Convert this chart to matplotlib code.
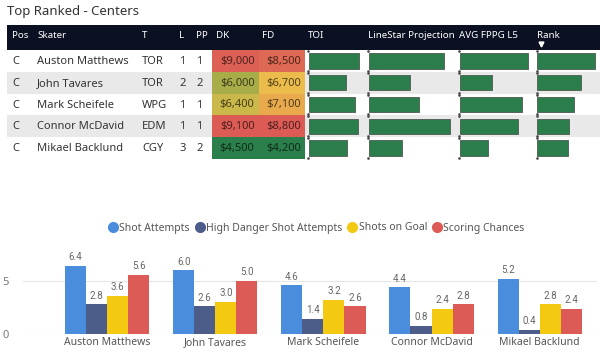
import matplotlib
matplotlib.use("Agg")
import matplotlib.pyplot as plt
import numpy as np
from matplotlib.colors import LinearSegmentedColormap, Normalize
from matplotlib.patches import Rectangle
from matplotlib.lines import Line2D

# ---------------- data ----------------
pos = ["C", "C", "C", "C", "C"]
skaters = ["Auston Matthews", "John Tavares", "Mark Scheifele", "Connor McDavid", "Mikael Backlund"]
teams = ["TOR", "TOR", "WPG", "EDM", "CGY"]
line = [1, 2, 1, 1, 3]
pp = [1, 2, 1, 1, 2]
dk = [9000, 6000, 6400, 9100, 4500]
fd = [8500, 6700, 7100, 8800, 4200]
toi = [20.3, 15.1, 18.7, 19.6, 15.5]
linestar = [18.0, 10.0, 12.0, 19.5, 8.0]
avg_fppg = [17.0, 8.0, 15.7, 14.7, 7.2]
rank = [5.8, 4.4, 3.7, 3.2, 3.1]

series_names = ["Shot Attempts", "High Danger Shot Attempts", "Shots on Goal", "Scoring Chances"]
shot_attempts = [6.4, 6.0, 4.6, 4.4, 5.2]
hd_attempts = [2.8, 2.6, 1.4, 0.8, 0.4]
shots_on_goal = [3.6, 3.0, 3.2, 2.4, 2.8]
scoring_chances = [5.6, 5.0, 2.6, 2.8, 2.4]

# ---------------- style ----------------
FONT = "Noto Sans"
W, H = 600, 354
fig = plt.figure(figsize=(W / 100, H / 100), dpi=100)

def frect(x0, y0, w, h):
    """pixel rect (top-left origin) -> figure fraction"""
    return [x0 / W, 1 - (y0 + h) / H, w / W, h / H]

# table layer in pixel coordinates
tab = fig.add_axes([0, 0, 1, 1])
tab.set_xlim(0, W)
tab.set_ylim(H, 0)
tab.axis("off")

tab.text(7, 12, "Top Ranked - Centers", fontsize=9.5, color="#333333",
         family=FONT, va="center", ha="left")

hdr_top, hdr_bot = 25, 50
row_h = 21.8
nrows = len(skaters)
tab.add_patch(Rectangle((7, hdr_top), W - 7, hdr_bot - hdr_top, color="#0b1022", lw=0))
for i in range(nrows):
    if i % 2 == 1:
        tab.add_patch(Rectangle((7, hdr_bot + i * row_h), W - 7, row_h,
                                color="#e9e9ea", lw=0))

headers = [("Pos", 12), ("Skater", 37), ("T", 142), ("L", 179), ("PP", 196),
           ("DK", 216), ("FD", 262), ("TOI", 308), ("LineStar Projection", 368),
           ("AVG FPPG L5", 459), ("Rank", 537)]
for txt, x in headers:
    tab.text(x, 35.5, txt, fontsize=7, color="white", family=FONT,
             va="center", ha="left")
tab.plot([540.5], [43.5], marker="v", color="white", markersize=3.5)

cmap = LinearSegmentedColormap.from_list("gyr", ["#2a7f4b", "#ecc64a", "#dc5c55"])

def darker(c, f=0.35):
    r, g, b, _ = c
    return (r * f, g * f, b * f)

for col_vals, x0, x1 in [(dk, 212, 258.5), (fd, 258.5, 305)]:
    norm = Normalize(min(col_vals), max(col_vals))
    for i, v in enumerate(col_vals):
        c = cmap(norm(v))
        y0 = hdr_bot + i * row_h
        tab.add_patch(Rectangle((x0, y0), x1 - x0, row_h, color=c, lw=0))
        tab.text(x1 - 4, y0 + row_h / 2 + 0.5, f"${v:,}", fontsize=8,
                 color=darker(c), family=FONT, va="center", ha="right")

for i in range(nrows):
    yc = hdr_bot + i * row_h + row_h / 2 + 0.5
    for txt, x in [(pos[i], 12), (skaters[i], 37), (teams[i], 142),
                   (str(line[i]), 179), (str(pp[i]), 196)]:
        tab.text(x, yc, txt, fontsize=8, color="#333333", family=FONT,
                 va="center", ha="left")

# data bar columns: (values, start px, width px, px per unit)
bar_cols = [(toi, 308.5, 59.5, 2.5), (linestar, 368.5, 90.5, 4.17),
            (avg_fppg, 459.5, 77.5, 4.0), (rank, 537.0, 63.0, 10.0)]
for vals, x0, w, scale in bar_cols:
    bx = fig.add_axes(frect(x0, hdr_bot, w, row_h * nrows))
    bx.patch.set_alpha(0)
    bx.set_xlim(0, w / scale)
    bx.set_ylim(nrows - 0.5, -0.5)
    bx.barh(np.arange(nrows), vals, height=0.7, color="#2b7d4c",
            edgecolor="#4d5a50", linewidth=0.6)
    bx.axis("off")
    for i in range(nrows):
        y0 = hdr_bot + i * row_h
        tab.plot([x0 - 0.5], [y0 + 1], marker="s", markersize=0.8,
                 color="#444444")
        tab.plot([x0 - 0.5], [y0 + row_h - 1], marker="s", markersize=0.8,
                 color="#444444")

# ---------------- grouped bar chart ----------------
colors = ["#4a8ddc", "#4c5d8a", "#f3c911", "#dc5b57"]
series = [shot_attempts, hd_attempts, shots_on_goal, scoring_chances]

ax = fig.add_axes(frect(23, 249.2, 574, 84.8))
ax.patch.set_alpha(0)
x = np.arange(len(skaters))
bw = 0.195
for k, (vals, c) in enumerate(zip(series, colors)):
    xs = x + (k - 1.5) * bw
    ax.bar(xs, vals, width=bw, color=c, lw=0, zorder=3)
    for xi, v in zip(xs, vals):
        ax.text(xi, v + 0.35, f"{v:.1f}", ha="center", va="bottom",
                fontsize=7, color="#666666", family="Roboto")
ax.set_xlim(-0.778, 4.53)
ax.set_ylim(0, 8)
ax.set_yticks([0, 5])
ax.set_yticklabels(["0", "5"], fontsize=8, color="#777777", family=FONT)
ax.set_xticks(x)
ax.set_xticklabels(skaters, fontsize=7.5, color="#555555", family=FONT)
ax.tick_params(axis="x", length=0, pad=2)
for s in ax.spines.values():
    s.set_visible(False)
ax.grid(axis="y", color="#e6e6e6", lw=0.8, zorder=0)
for lab in ax.get_yticklabels():
    lab.set_ha("left")
ax.tick_params(axis="y", length=0, pad=15)

handles = [Line2D([], [], marker="o", ls="", color=c, markersize=7) for c in colors]
fig.legend(handles, series_names, loc="center", bbox_to_anchor=(317 / W, 1 - 228 / H),
           ncol=4, frameon=False, handlelength=0.7, handletextpad=0.25,
           columnspacing=0.6, borderaxespad=0,
           prop={"family": FONT, "size": 7.5}, labelcolor="#555555")

fig.savefig("out.png", dpi=100)
